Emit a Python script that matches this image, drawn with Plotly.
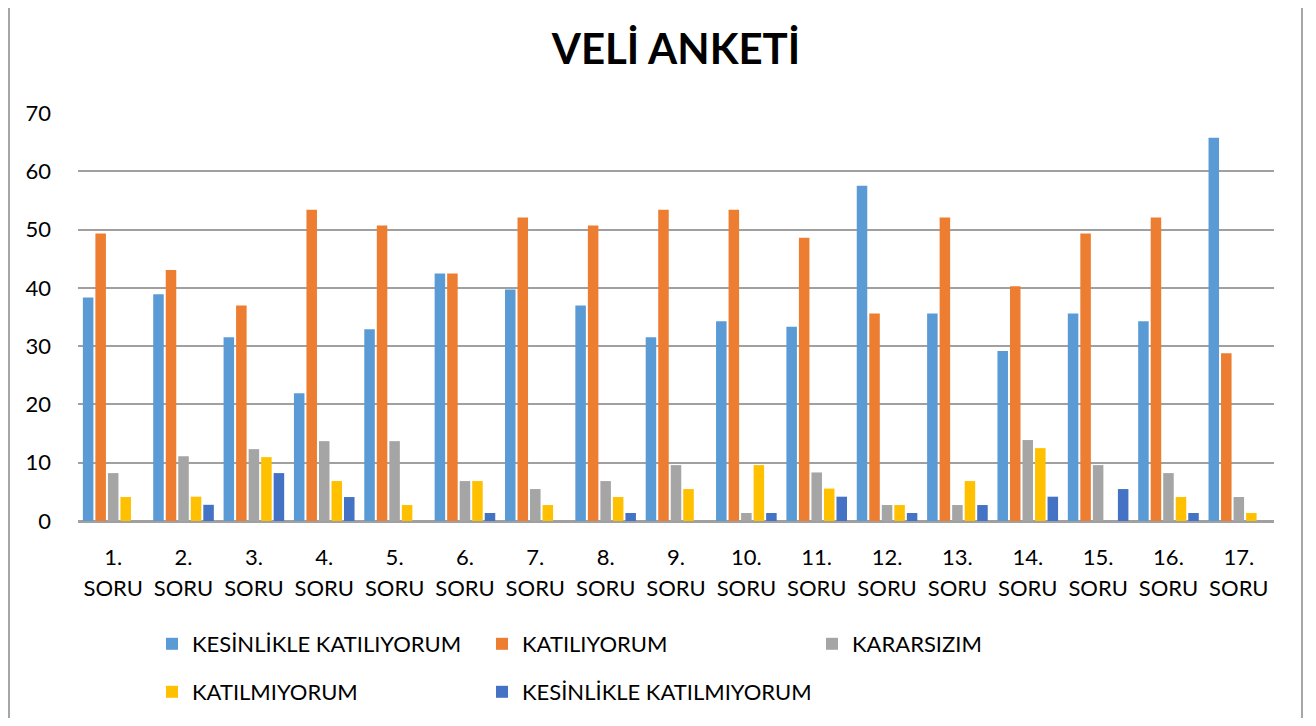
import plotly.graph_objects as go

CATEGORIES = [f"{i}. SORU" for i in range(1, 18)]
NUM_LABELS = [f"{i}." for i in range(1, 18)]
SECOND_LINE = ["SORU"] * 17

SERIES_NAMES = ["KESİNLİKLE KATILIYORUM", "KATILIYORUM", "KARARSIZIM",
                "KATILMIYORUM", "KESİNLİKLE KATILMIYORUM"]

kesinlikle_katiliyorum = [38.36, 38.89, 31.51, 21.92, 32.88, 42.47, 39.73, 36.99, 31.51,
                          34.25, 33.33, 57.53, 35.62, 29.17, 35.62, 34.25, 65.75]
katiliyorum = [49.32, 43.06, 36.99, 53.42, 50.68, 42.47, 52.05, 50.68, 53.42,
               53.42, 48.61, 35.62, 52.05, 40.28, 49.32, 52.05, 28.77]
kararsizim = [8.22, 11.11, 12.33, 13.70, 13.70, 6.85, 5.48, 6.85, 9.59,
              1.37, 8.33, 2.74, 2.74, 13.89, 9.59, 8.22, 4.11]
katilmiyorum = [4.11, 4.17, 10.96, 6.85, 2.74, 6.85, 2.74, 4.11, 5.48,
                9.59, 5.56, 2.74, 6.85, 12.50, 0, 4.11, 1.37]
kesinlikle_katilmiyorum = [0, 2.78, 8.22, 4.11, 0, 1.37, 0, 1.37, 0,
                           1.37, 4.17, 1.37, 2.74, 4.17, 5.48, 1.37, 0]

SERIES = [kesinlikle_katiliyorum, katiliyorum, kararsizim, katilmiyorum, kesinlikle_katilmiyorum]
COLORS = ["#5B9BD5", "#ED7D31", "#A5A5A5", "#FFC000", "#4472C4"]
LEGENDS = ["legend", "legend", "legend", "legend2", "legend2"]

FONT = "Lato, 'Open Sans', sans-serif"

fig = go.Figure()
for name, vals, col, lg in zip(SERIES_NAMES, SERIES, COLORS, LEGENDS):
    fig.add_trace(go.Bar(x=CATEGORIES, y=vals, name=name, legend=lg,
                         marker=dict(color=col, line=dict(width=0))))

# helper trace carrying the second line of the category labels
fig.add_trace(go.Scatter(x=CATEGORIES, y=[0] * 17, xaxis="x2", mode="markers",
                         marker=dict(opacity=0), hoverinfo="skip", showlegend=False))

# page has an 8px body margin: figure coordinates = page coordinates - 8
OFF = 8
W, H = 1300, 710
L = 78 - OFF
T = 113 - OFF
R = W - (1274 - OFF)
B = H - (521 - OFF)
pw, ph = W - L - R, H - T - B


def px_x(x):
    return (x - OFF - L) / pw


def px_y(y):
    return (H - B - (y - OFF)) / ph


fig.update_layout(
    width=W, height=H,
    margin=dict(l=L, r=R, t=T, b=B, autoexpand=False),
    paper_bgcolor="white", plot_bgcolor="white",
    font=dict(family=FONT, size=22, color="#000000"),
    title=dict(text="<b>VELİ ANKETİ</b>", x=0.5, xanchor="center", xref="paper",
               y=1 - (49 - OFF) / H, yanchor="middle", yref="container",
               font=dict(family=FONT, size=42, color="#000000")),
    barmode="group", bargap=0.11, bargroupgap=0.16,
    xaxis=dict(type="category", categoryarray=CATEGORIES, range=[-0.5, 16.5],
               tickmode="array", tickvals=CATEGORIES, ticktext=NUM_LABELS, ticks="",
               ticklabelstandoff=16, showline=True, linecolor="#a0a0a0", linewidth=1.5,
               showgrid=False, tickfont=dict(size=22)),
    xaxis2=dict(type="category", categoryarray=CATEGORIES, range=[-0.5, 16.5],
                overlaying="x", side="bottom", anchor="y", tickmode="array",
                tickvals=CATEGORIES, ticktext=SECOND_LINE, ticks="",
                ticklabelstandoff=52, showline=False, showgrid=False,
                zeroline=False, tickfont=dict(size=22)),
    yaxis=dict(range=[0, 70], dtick=10, tick0=0, showgrid=True, gridcolor="#a0a0a0",
               gridwidth=1.5, zeroline=True, zerolinecolor="#a0a0a0", zerolinewidth=1.5,
               ticks="", ticklabelstandoff=26, tickfont=dict(size=22)),
    legend=dict(orientation="h", x=px_x(152), xanchor="left", y=px_y(644), yanchor="middle",
                entrywidth=285, entrywidthmode="pixels", font=dict(size=22),
                bgcolor="rgba(0,0,0,0)", itemclick=False, itemdoubleclick=False),
    legend2=dict(orientation="h", x=px_x(152), xanchor="left", y=px_y(692), yanchor="middle",
                 entrywidth=285, entrywidthmode="pixels", font=dict(size=22),
                 bgcolor="rgba(0,0,0,0)", itemclick=False, itemdoubleclick=False),
    shapes=[dict(type="rect", xref="paper", yref="paper",
                 x0=px_x(9), x1=px_x(1302), y0=px_y(724), y1=px_y(2),
                 line=dict(color="#a6a6a6", width=2), fillcolor="rgba(0,0,0,0)", layer="below")],
)

fig.write_html("out.html")
